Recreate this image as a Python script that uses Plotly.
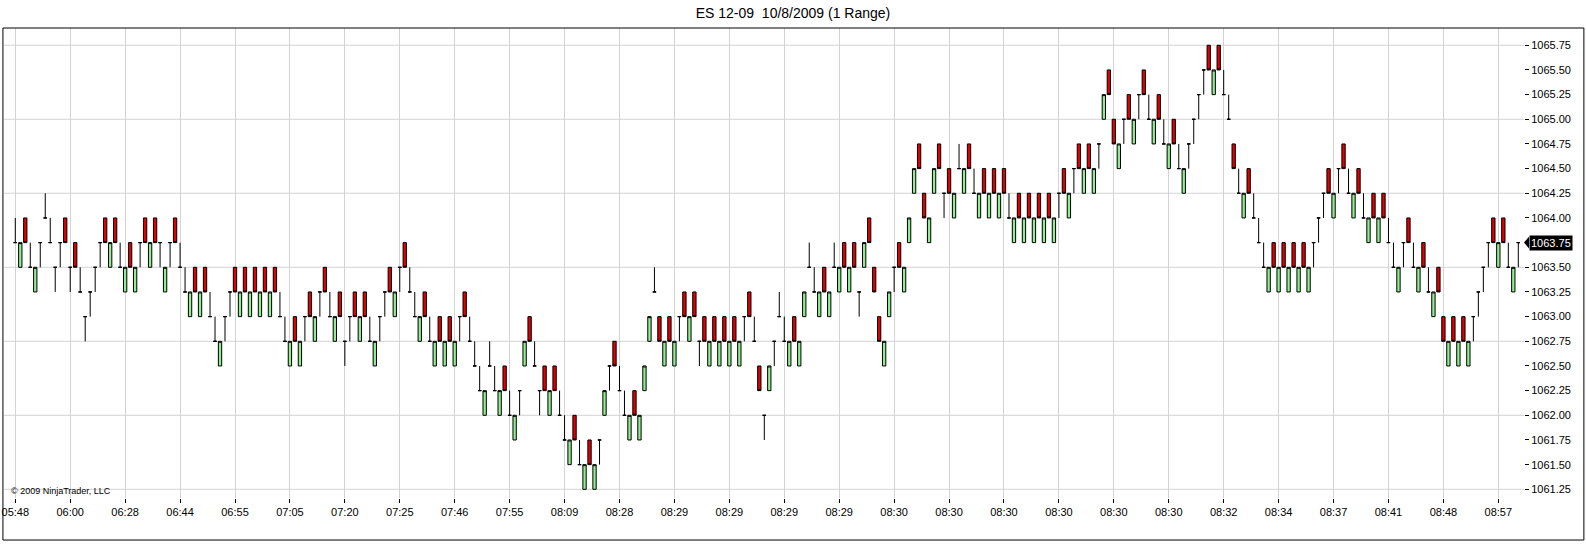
import plotly.graph_objects as go

# ── Chart data (1-tick range bars, ES 12-09, 10/8/2009) ───────────────────────
TICK = 0.25

# low of every bar, 11 bars per time label
bar_low = [
    1063.75, 1063.5, 1063.75, 1063.5, 1063.25, 1063.5, 1064.0, 1063.75, 1063.25, 1063.5, 1063.75,
    1063.25, 1063.5, 1063.25, 1062.75, 1063.0, 1063.25, 1063.5, 1063.75, 1063.5, 1063.75, 1063.5,
    1063.25, 1063.5, 1063.25, 1063.5, 1063.75, 1063.5, 1063.75, 1063.5, 1063.25, 1063.5, 1063.75,
    1063.5, 1063.25, 1063.0, 1063.25, 1063.0, 1063.25, 1063.0, 1062.75, 1062.5, 1062.75, 1063.0,
    1063.25, 1063.0, 1063.25, 1063.0, 1063.25, 1063.0, 1063.25, 1063.0, 1063.25, 1063.0, 1062.75,
    1062.5, 1062.75, 1062.5, 1062.75, 1063.0, 1062.75, 1063.0, 1063.25, 1063.0, 1062.75, 1063.0,
    1062.5, 1062.75, 1063.0, 1062.75, 1063.0, 1062.75, 1062.5, 1062.75, 1063.0, 1063.25, 1063.0,
    1063.25, 1063.5, 1063.25, 1063.0, 1062.75, 1063.0, 1062.75, 1062.5, 1062.75, 1062.5, 1062.75,
    1062.5, 1062.75, 1063.0, 1062.75, 1062.5, 1062.25, 1062.0, 1062.5, 1062.25, 1062.0, 1062.25,
    1062.0, 1061.75, 1062.0, 1062.5, 1062.75, 1062.5, 1062.0, 1062.25, 1062.0, 1062.25, 1062.0,
    1061.75, 1061.5, 1061.75, 1061.5, 1061.25, 1061.5, 1061.25, 1061.5, 1062.0, 1062.25, 1062.5,
    1062.25, 1062.0, 1061.75, 1062.0, 1061.75, 1062.25, 1062.75, 1063.25, 1062.75, 1062.5, 1062.75,
    1062.5, 1062.75, 1063.0, 1062.75, 1063.0, 1062.5, 1062.75, 1062.5, 1062.75, 1062.5, 1062.75,
    1062.5, 1062.75, 1062.5, 1062.75, 1063.0, 1062.75, 1062.25, 1061.75, 1062.25, 1062.5, 1063.0,
    1062.75, 1062.5, 1062.75, 1062.5, 1063.0, 1063.5, 1063.25, 1063.0, 1063.25, 1063.0, 1063.5,
    1063.25, 1063.5, 1063.25, 1063.5, 1063.0, 1063.5, 1063.75, 1063.25, 1062.75, 1062.5, 1063.0,
    1063.25, 1063.5, 1063.25, 1063.75, 1064.25, 1064.5, 1064.0, 1063.75, 1064.25, 1064.5, 1064.0,
    1064.25, 1064.0, 1064.5, 1064.25, 1064.5, 1064.25, 1064.0, 1064.25, 1064.0, 1064.25, 1064.0,
    1064.25, 1064.0, 1063.75, 1064.0, 1063.75, 1064.0, 1063.75, 1064.0, 1063.75, 1064.0, 1063.75,
    1064.0, 1064.25, 1064.0, 1064.25, 1064.5, 1064.25, 1064.5, 1064.25, 1064.5, 1065.0, 1065.25,
    1064.75, 1064.5, 1064.75, 1065.0, 1064.75, 1065.0, 1065.25, 1065.0, 1064.75, 1065.0, 1064.75,
    1064.5, 1064.75, 1064.5, 1064.25, 1064.5, 1064.75, 1065.0, 1065.25, 1065.5, 1065.25, 1065.5,
    1065.25, 1065.0, 1064.5, 1064.25, 1064.0, 1064.25, 1064.0, 1063.75, 1063.5, 1063.25, 1063.5,
    1063.25, 1063.5, 1063.25, 1063.5, 1063.25, 1063.5, 1063.25, 1063.5, 1063.75, 1064.0, 1064.25,
    1064.0, 1064.25, 1064.5, 1064.25, 1064.0, 1064.25, 1064.0, 1063.75, 1064.0, 1063.75, 1064.0,
    1063.75, 1063.5, 1063.25, 1063.5, 1063.75, 1063.5, 1063.25, 1063.5, 1063.25, 1063.0, 1063.25,
    1062.75, 1062.5, 1062.75, 1062.5, 1062.75, 1062.5, 1062.75, 1063.0, 1063.25, 1063.5, 1063.75,
    1063.5, 1063.75, 1063.5, 1063.25, 1063.5,
]

# U = up bar (green), D = down bar (red),
# T = doji closing at the high, B = doji closing at the low
bar_kind = (
    "BUDBUTBBTTD"
    "TDBTTTTDUDB"
    "UDUTDUDTUTD"
    "BBUDUDBBUTT"
    "DUDUDUDUDBB"
    "UDUTDUTDBUD"
    "TTDUDBUTTDU"
    "TDBBUDBUDUD"
    "UTDBBBUBBUD"
    "BUTUDBTDUDB"
    "BUDBUDUTUTD"
    "BBUDUUUBDUD"
    "UTDUDTDUDUD"
    "UDUTDBDTUTB"
    "BUDUUBBUDUB"
    "UDUDTUDDDUU"
    "TDUUUDDUUDT"
    "DUBUDBUDUDU"
    "DBUDUDUDUDU"
    "TDUTDUDUTUD"
    "DUTDUTDBUDB"
    "UDBUTTTTDUD"
    "BBDBUDBBBUD"
    "UDUDUDUTTTD"
    "UTDBUDBUDUD"
    "BBUTDBUDBUD"
    "DUDUDUTTTTD"
    "UDBUT"
)

time_labels = [
    "05:48", "06:00", "06:28", "06:44", "06:55", "07:05", "07:20", "07:25",
    "07:46", "07:55", "08:09", "08:28", "08:29", "08:29", "08:29", "08:29",
    "08:30", "08:30", "08:30", "08:30", "08:30", "08:30", "08:32", "08:34",
    "08:37", "08:41", "08:48", "08:57",
]
BARS_PER_LABEL = 11

price_ticks = [
    1061.25, 1061.5, 1061.75, 1062.0, 1062.25, 1062.5, 1062.75, 1063.0, 1063.25, 1063.5,
    1063.75, 1064.0, 1064.25, 1064.5, 1064.75, 1065.0, 1065.25, 1065.5, 1065.75,
]
grid_levels = price_ticks[::3]

assert len(bar_low) == len(bar_kind)

# ── Build OHLC from the range bars ────────────────────────────────────────────
bar_no = list(range(len(bar_low)))
opens, highs, lows, closes = [], [], [], []
for lo, kind in zip(bar_low, bar_kind):
    hi = lo + TICK
    o, c = {"U": (lo, hi), "D": (hi, lo), "T": (hi, hi), "B": (lo, lo)}[kind]
    opens.append(o); highs.append(hi); lows.append(lo); closes.append(c)

UP_FILL = "#90ee90"
DOWN_FILL = "#e00000"
GRID = "#d3d3d3"
FONT = "Liberation Sans, Arial, sans-serif"

fig = go.Figure(go.Candlestick(
    x=bar_no, open=opens, high=highs, low=lows, close=closes,
    increasing=dict(fillcolor=UP_FILL, line=dict(color="black", width=1)),
    decreasing=dict(fillcolor=DOWN_FILL, line=dict(color="black", width=1)),
    whiskerwidth=0, hoverinfo="skip", showlegend=False,
))

fig.update_layout(
    width=1586, height=547,
    margin=dict(l=2, r=62, t=28, b=49),
    paper_bgcolor="white", plot_bgcolor="white",
    font=dict(family=FONT, size=11, color="black"),
    title=dict(text="ES 12-09  10/8/2009 (1 Range)", x=0.5, xref="container", xanchor="center",
               y=0.976, yref="container", yanchor="middle", font=dict(family=FONT, size=14)),
    boxgap=0.05,
    showlegend=False,
)

fig.update_xaxes(
    range=[-2.26, 302.14],
    tickvals=[i * BARS_PER_LABEL for i in range(len(time_labels))],
    ticktext=time_labels,
    ticklabeloverflow="allow",
    showgrid=True, gridcolor=GRID, gridwidth=1,
    ticks="outside", ticklen=4, tickcolor="black",
    zeroline=False, showline=False,
    rangeslider=dict(visible=False),
)
fig.update_yaxes(
    side="right",
    range=[1061.162, 1065.925],
    tickvals=price_ticks,
    ticktext=[f"{p:.2f}" for p in price_ticks],
    showgrid=False, zeroline=False, showline=False,
    ticks="outside", ticklen=4, tickcolor="black",
)

for lvl in grid_levels:
    fig.add_hline(y=lvl, line=dict(color=GRID, width=1), layer="below")

# last price marker on the price axis
last = closes[-1]
fig.add_shape(type="path", xref="paper", yref="y",
              path=f"M 1,{last} L {1 + 5 / 1522},{last + 0.06} L {1 + 5 / 1522},{last - 0.06} Z",
              fillcolor="black", line=dict(width=0))
fig.add_annotation(x=1, xref="paper", y=last, yref="y", xanchor="left", xshift=5,
                   text=f"{last:.2f}", showarrow=False, bgcolor="black",
                   font=dict(family=FONT, size=11, color="white"), borderpad=1)

fig.add_annotation(x=0.003, xref="paper", y=0.015, yref="paper", xanchor="left", yanchor="middle",
                   text="© 2009 NinjaTrader, LLC", showarrow=False,
                   font=dict(family=FONT, size=9, color="black"))

# outer frame
fig.add_shape(type="rect", xref="paper", yref="paper",
              x0=-0.0007, x1=1.0394, y0=-0.0894, y1=1.0,
              line=dict(color="black", width=1), fillcolor="rgba(0,0,0,0)", layer="above")

# the page body has an 8px default margin; drop it so the figure sits at 0,0
fig.write_html("out.html", config={"displayModeBar": False},
               post_script="document.body.style.margin='0';document.body.style.padding='0';")
